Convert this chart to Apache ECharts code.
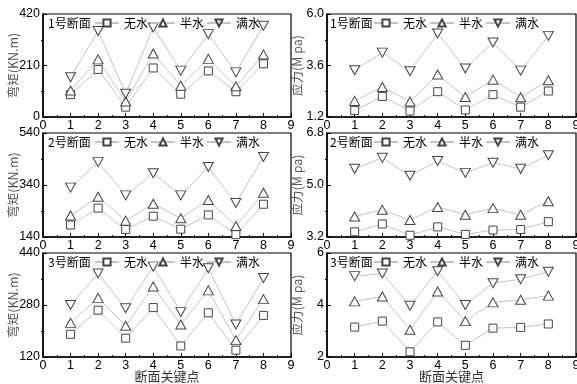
<!DOCTYPE html>
<html><head><meta charset="utf-8">
<script src="https://cdn.jsdelivr.net/npm/echarts@6/dist/echarts.min.js"></script>
<style>html,body{margin:0;padding:0;background:#fff}#c{width:577px;height:384px}</style>
</head><body><div id="c"></div>
<script>
// key points along the section
const keyPoints = [1, 2, 3, 4, 5, 6, 7, 8];
const seriesNames = ['无水', '半水', '满水'];
const sectionTitles = ['1号断面', '2号断面', '3号断面'];

// Section 1 bending moment (KN.m)
const s1MomentNone = [91, 194, 40, 200, 93, 188, 103, 217];
const s1MomentHalf = [108, 235, 63, 259, 128, 237, 125, 255];
const s1MomentFull = [162, 351, 95, 365, 189, 338, 182, 372];
// Section 1 stress (MPa)
const s1StressNone = [1.50, 2.16, 1.48, 2.38, 1.53, 2.24, 1.66, 2.41];
const s1StressHalf = [1.95, 2.60, 1.92, 3.18, 2.13, 2.94, 2.12, 2.91];
const s1StressFull = [3.38, 4.20, 3.33, 5.09, 3.46, 4.67, 3.36, 4.98];
// Section 2 bending moment
const s2MomentNone = [186, 251, 169, 220, 170, 225, 149, 266];
const s2MomentHalf = [223, 295, 203, 268, 212, 282, 182, 310];
const s2MomentFull = [330, 428, 300, 385, 300, 409, 271, 448];
// Section 2 stress
const s2StressNone = [3.38, 3.65, 3.26, 3.55, 3.29, 3.44, 3.46, 3.73];
const s2StressHalf = [3.91, 4.14, 3.79, 4.24, 3.97, 4.20, 3.97, 4.44];
const s2StressFull = [5.56, 5.94, 5.32, 5.83, 5.42, 5.77, 5.56, 6.03];
// Section 3 bending moment
const s3MomentNone = [190, 264, 178, 272, 154, 256, 141, 248];
const s3MomentHalf = [225, 302, 216, 337, 220, 325, 172, 298];
const s3MomentFull = [280, 377, 270, 398, 258, 393, 220, 363];
// Section 3 stress
const s3StressNone = [3.15, 3.38, 2.20, 3.35, 2.45, 3.11, 3.14, 3.27];
const s3StressHalf = [4.14, 4.33, 3.05, 4.52, 3.38, 4.10, 4.20, 4.36];
const s3StressFull = [5.11, 5.21, 3.97, 5.30, 4.00, 4.84, 4.99, 5.28];

// y axis ticks per panel (row-major: moment, stress)
const yTicks1 = [0, 210, 420];
const yTicks2 = [1.2, 3.6, 6.0];
const yTicks3 = [140, 340, 540];
const yTicks4 = [3.2, 5.0, 6.8];
const yTicks5 = [120, 280, 440];
const yTicks6 = [2, 4, 6];
const yTickLabels1 = ['0', '210', '420'];
const yTickLabels2 = ['1.2', '3.6', '6.0'];
const yTickLabels3 = ['140', '340', '540'];
const yTickLabels4 = ['3.2', '5.0', '6.8'];
const yTickLabels5 = ['120', '280', '440'];
const yTickLabels6 = ['2', '4', '6'];
const xTicks = [0, 1, 2, 3, 4, 5, 6, 7, 8, 9];

const yNameMoment = '弯矩(KN.m)';
const yNameStress = '应力(M pa)';
const xName = '断面关键点';

const panels = [
  {data: [s1MomentNone, s1MomentHalf, s1MomentFull], ticks: yTicks1, labels: yTickLabels1, yName: yNameMoment, title: sectionTitles[0]},
  {data: [s1StressNone, s1StressHalf, s1StressFull], ticks: yTicks2, labels: yTickLabels2, yName: yNameStress, title: sectionTitles[0]},
  {data: [s2MomentNone, s2MomentHalf, s2MomentFull], ticks: yTicks3, labels: yTickLabels3, yName: yNameMoment, title: sectionTitles[1]},
  {data: [s2StressNone, s2StressHalf, s2StressFull], ticks: yTicks4, labels: yTickLabels4, yName: yNameStress, title: sectionTitles[1]},
  {data: [s3MomentNone, s3MomentHalf, s3MomentFull], ticks: yTicks5, labels: yTickLabels5, yName: yNameMoment, title: sectionTitles[2]},
  {data: [s3StressNone, s3StressHalf, s3StressFull], ticks: yTicks6, labels: yTickLabels6, yName: yNameStress, title: sectionTitles[2]}
];

// layout
const colLeft = [43, 327];
const colWidth = [248, 249];
const rowTop = [14, 133, 253];
const rowHeight = [103, 104, 104];
const titleDx = [5, 3];
const legendDx = [51, 46];

const numFont = "'Liberation Sans', Arial, 'Noto Sans CJK SC', sans-serif";
const cjkFont = "'Noto Sans CJK SC', sans-serif";
const symbols = ['rect', 'triangle', 'triangle'];
const symbolSizes = [8, [10, 9], [10, 9]];
const symbolRotates = [0, 0, 180];

const grid = [], xAxis = [], yAxis = [], series = [], legend = [], title = [];
panels.forEach((p, i) => {
  const col = i % 2, row = Math.floor(i / 2);
  grid.push({left: colLeft[col], top: rowTop[row], width: colWidth[col], height: rowHeight[row],
    show: true, borderColor: '#000', borderWidth: 1.2, backgroundColor: 'transparent',
    containLabel: false, outerBoundsMode: 'none'});
  xAxis.push({type: 'value', gridIndex: i, min: 0, max: 9, interval: 1,
    axisLine: {show: true, onZero: false, lineStyle: {color: '#000', width: 1.5}},
    axisTick: {show: true, inside: true, length: 4, lineStyle: {color: '#000'}},
    minorTick: {show: true, splitNumber: 2, length: 2, lineStyle: {color: '#000'}},
    axisLabel: {margin: 2, fontSize: 12.5, color: '#000', fontFamily: numFont},
    splitLine: {show: false},
    name: row === 2 ? xName : '', nameLocation: 'middle', nameGap: 13, nameMoveOverlap: false,
    nameTextStyle: {fontSize: 13, color: '#333', fontFamily: cjkFont}});
  const mn = p.ticks[0], mx = p.ticks[p.ticks.length - 1];
  const mids = [];
  for (let k = 0; k < p.ticks.length - 1; k++) mids.push((p.ticks[k] + p.ticks[k + 1]) / 2);
  yAxis.push({type: 'value', gridIndex: i, min: mn, max: mx,
    axisLine: {show: true, onZero: false, lineStyle: {color: '#000', width: 1.5}},
    axisTick: {show: true, inside: true, length: 4, customValues: p.ticks, lineStyle: {color: '#000'}},
    axisLabel: {margin: 3, fontSize: 12.5, color: '#000', fontFamily: numFont, customValues: p.ticks,
      formatter: (v) => { const idx = p.ticks.findIndex(t => Math.abs(t - v) < 1e-9); return idx >= 0 ? p.labels[idx] : ''; }},
    splitLine: {show: false},
    name: p.yName, nameLocation: 'middle', nameGap: 23.5, nameMoveOverlap: false,
    nameTextStyle: {fontSize: 12.5, color: '#555', fontFamily: cjkFont}});
  yAxis.push({type: 'value', gridIndex: i, min: mn, max: mx,
    axisLine: {show: false},
    axisTick: {show: true, inside: true, length: 2, customValues: mids, lineStyle: {color: '#000'}},
    axisLabel: {show: false}, splitLine: {show: false}});
  p.data.forEach((vals, s) => {
    series.push({type: 'line', name: seriesNames[s], xAxisIndex: i, yAxisIndex: 2 * i,
      data: keyPoints.map((k, j) => [k, vals[j]]),
      symbol: symbols[s], symbolSize: symbolSizes[s], symbolRotate: symbolRotates[s],
      showAllSymbol: true,
      lineStyle: {color: '#c4c4c4', width: 1},
      itemStyle: {color: '#fff', borderColor: '#444', borderWidth: 1},
      emphasis: {disabled: true}, animation: false, z: 3});
  });
  legend.push({data: seriesNames, left: colLeft[col] + legendDx[col], top: rowTop[row] + 3,
    orient: 'horizontal', itemWidth: 24, itemHeight: 9, itemGap: 2, padding: 0,
    textStyle: {fontSize: 12, color: '#000', fontFamily: cjkFont}, selectedMode: false});
  title.push({text: p.title, left: colLeft[col] + titleDx[col], top: rowTop[row] + 3, padding: 0,
    textStyle: {fontSize: 12, fontWeight: 'normal', color: '#000', fontFamily: cjkFont}});
});

const chart = echarts.init(document.getElementById('c'), null, {renderer: 'canvas'});
chart.setOption({animation: false, backgroundColor: '#fff', title, grid, xAxis, yAxis, legend, series});
</script></body></html>
